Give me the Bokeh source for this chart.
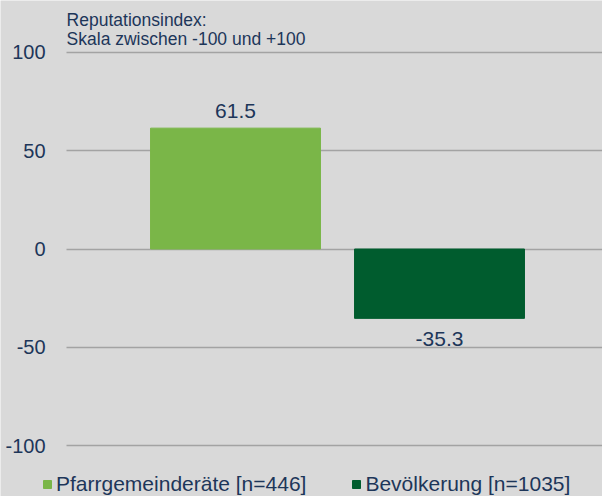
from bokeh.plotting import figure
from bokeh.models import ColumnDataSource, Range1d, FixedTicker, Label, Legend, LegendItem
from bokeh.core.properties import value
from bokeh.embed import file_html
from bokeh.resources import INLINE

# ---- data ----
categories = ["Pfarrgemeinderäte [n=446]", "Bevölkerung [n=1035]"]
values = [61.5, -35.3]
value_labels = ["61.5", "-35.3"]
colors = ["#7ab648", "#005c2e"]
y_ticks = [-100, -50, 0, 50, 100]
y_tick_labels = ["-100", "-50", "0", "50", "100"]
note_lines = ["Reputationsindex:", "Skala zwischen -100 und +100"]

FONT = "Liberation Sans"
TXT = "#1d3659"
BG = "#d9d9d9"

X0, X1 = -1.152, 1.799      # full-width x range
XA = -0.828                 # left end of the plotting area (where grid lines begin)

x_pos = list(range(len(categories)))
pos_idx = [i for i, v in enumerate(values) if v >= 0]
neg_idx = [i for i, v in enumerate(values) if v < 0]

src = ColumnDataSource(dict(x=x_pos, top=values, cat=categories, color=colors))
src_pos = ColumnDataSource(dict(x=[x_pos[i] for i in pos_idx], y=[values[i] for i in pos_idx],
                                lab=[value_labels[i] for i in pos_idx]))
src_neg = ColumnDataSource(dict(x=[x_pos[i] for i in neg_idx], y=[values[i] for i in neg_idx],
                                lab=[value_labels[i] for i in neg_idx]))
src_ticks = ColumnDataSource(dict(x=[XA] * len(y_ticks), y=y_ticks, lab=y_tick_labels))

p = figure(width=602, height=496, output_backend="svg", toolbar_location=None,
           x_range=Range1d(X0, X1), y_range=Range1d(-125.95, 126.46),
           x_axis_location=None, y_axis_location=None, min_border=0)
p.background_fill_color = BG
p.border_fill_color = BG
p.outline_line_color = None

p.xgrid.visible = False
p.ygrid.ticker = FixedTicker(ticks=y_ticks)
p.ygrid.cross_bounds = (XA, X1)
p.ygrid.grid_line_color = "#a3a3a3"
p.ygrid.grid_line_width = 1.3

bars = p.vbar(x="x", top="top", bottom=0, width=0.833, color="color", source=src)

p.text(x="x", y="y", text="lab", source=src_pos, text_align="center",
       text_baseline="alphabetic", y_offset=-17, text_font=value(FONT),
       text_font_size="21px", text_color=TXT)
p.text(x="x", y="y", text="lab", source=src_neg, text_align="center",
       text_baseline="top", y_offset=14, text_font=value(FONT),
       text_font_size="21px", text_color=TXT)
p.text(x="x", y="y", text="lab", source=src_ticks, text_align="right",
       text_baseline="middle", x_offset=-21, text_font=value(FONT),
       text_font_size="20px", text_color=TXT)

for line, yv in zip(note_lines, [116.5, 106.8]):
    p.add_layout(Label(x=XA, y=yv, text=line, text_font=FONT, text_font_size="17.5px",
                       text_color=TXT, text_baseline="alphabetic"))

items = [LegendItem(label=cat, renderers=[bars], index=i) for i, cat in enumerate(categories)]
lg = Legend(items=items, orientation="horizontal", location=(42, 0),
            glyph_width=10, glyph_height=10, label_standoff=4, spacing=45,
            padding=0, margin=0, border_line_color=None, background_fill_alpha=0,
            label_text_font=FONT, label_text_font_size="21px", label_text_color=TXT)
p.add_layout(lg, "center")

open("out.html", "w").write(file_html(p, INLINE))
